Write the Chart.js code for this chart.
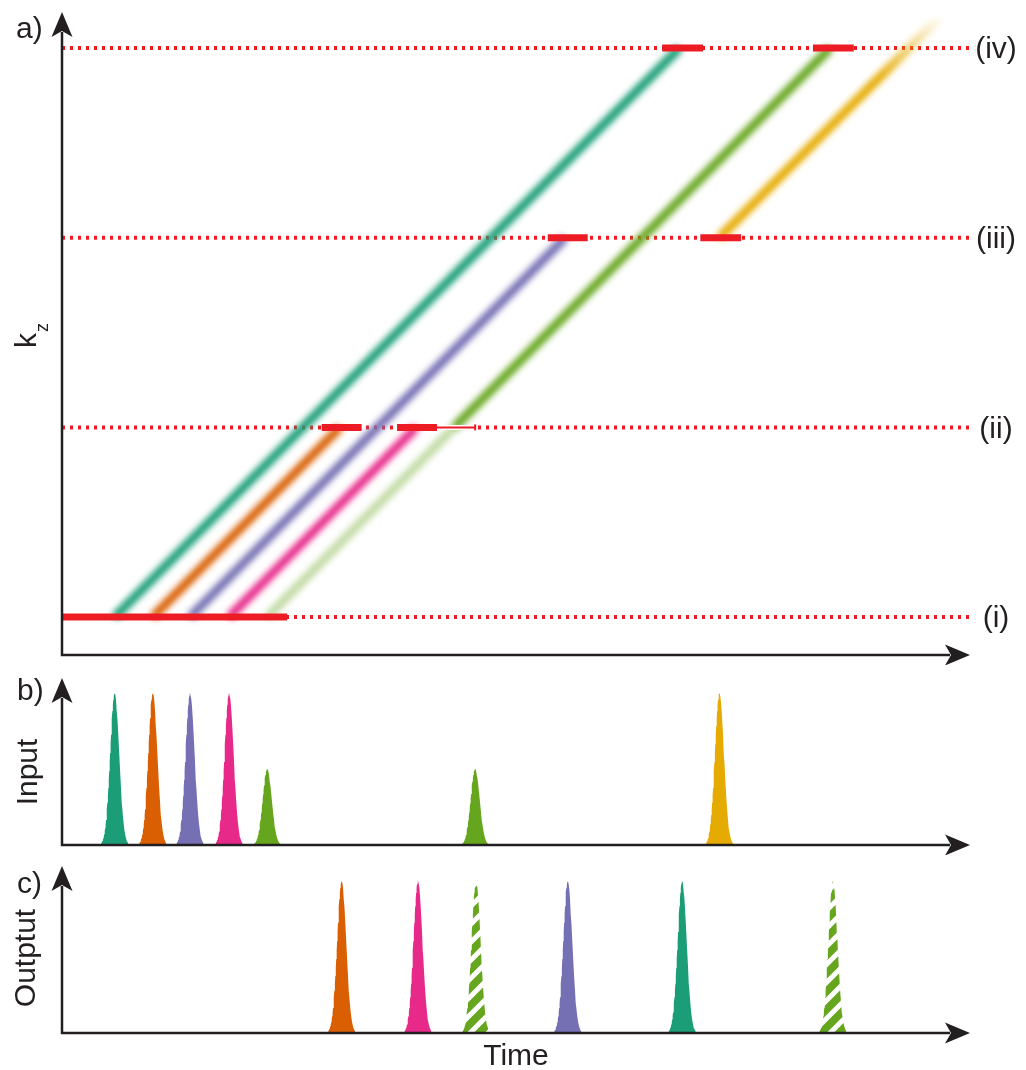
<!DOCTYPE html>
<html lang="en">
<head>
<meta charset="UTF-8">
<title>k_z versus time, input and output pulses</title>
<script src="https://cdn.jsdelivr.net/npm/chart.js"></script>
<style>
  body { margin: 0; background: #fff; }
  #wrap { position: relative; width: 1026px; height: 1070px; }
  canvas { position: absolute; left: 0; }
</style>
</head>
<body>
<div id="wrap">
  <canvas id="chartA" width="1026" height="665" style="top:0"></canvas>
  <canvas id="chartB" width="1026" height="190" style="top:665px"></canvas>
  <canvas id="chartC" width="1026" height="215" style="top:855px"></canvas>
</div>
<script>
// ColorBrewer Dark2
const TEAL = '#1b9e77', ORANGE = '#d95f02', PURPLE = '#7570b3',
      MAGENTA = '#e7298a', GREEN = '#66a61e', GOLD = '#e6ab02';
const RED = '#ed1c24', INK = '#231f20';
const FONT = '"Liberation Sans", Arial, sans-serif';

// ---- panel a : k_z levels ----
const levels = [1, 2, 3, 4];
const levelLabels = ['(i)', '(ii)', '(iii)', '(iv)'];

// diagonal bands, start (time, level) -> end (time, level)
const bandT0 = [5.8, 10.0, 14.1, 18.4, 22.6, 43.2, 72.4];
const bandK0 = [1, 1, 1, 1, 1, 2, 3];
const bandT1 = [68.0, 30.6, 55.4, 39.0, 43.2, 84.6, 96.8];
const bandK1 = [4, 2, 3, 2, 2, 4, 4.17];
const bandColors = [TEAL, ORANGE, PURPLE, MAGENTA, 'rgba(102,166,30,0.4)', GREEN, GOLD];

// thick red windows
const winStart = [0, 28.6, 36.9, 53.5, 70.3, 66.1, 82.7];
const winEnd   = [24.8, 33.0, 41.3, 57.9, 74.8, 70.6, 87.2];
const winLevel = [1, 2, 2, 3, 3, 4, 4];
// thin red tail on (ii)
const tailStart = 41.3, tailEnd = 45.5, tailLevel = 2;

// ---- panel b : input pulses ----
const inTimes   = [5.8, 10.0, 14.1, 18.4, 22.6, 45.5, 72.4];
const inHeights = [1, 1, 1, 1, 0.5, 0.5, 1];
const inColors  = [TEAL, ORANGE, PURPLE, MAGENTA, GREEN, GREEN, GOLD];

// ---- panel c : output pulses ----
const outTimes   = [30.8, 39.2, 45.6, 55.7, 68.3, 84.9];
const outHeights = [1, 1, 1, 1, 1, 1];
const outColors  = [ORANGE, MAGENTA, GREEN, PURPLE, TEAL, GREEN];
const outHatched = [false, false, true, false, false, true];

const PULSE_SIGMA = 0.5;
function pulse(t0, h) {
  const pts = [];
  for (let i = -30; i <= 30; i++) {
    const x = t0 + i * PULSE_SIGMA / 10;
    pts.push({x: x, y: h * Math.exp(-0.5 * Math.pow((x - t0) / PULSE_SIGMA, 2))});
  }
  return pts;
}

function hatch(color) {
  const s = 18, c = document.createElement('canvas');
  c.width = c.height = s;
  const x = c.getContext('2d');
  x.fillStyle = color; x.fillRect(0, 0, s, s);
  x.strokeStyle = '#fff'; x.lineWidth = 5;
  x.beginPath();
  x.moveTo(-3, 3); x.lineTo(3, -3);
  x.moveTo(0, s); x.lineTo(s, 0);
  x.moveTo(s - 3, s + 3); x.lineTo(s + 3, s - 3);
  x.stroke();
  return x.createPattern(c, 'repeat');
}

function arrowHead(ctx, x, y, dir) {
  const L = 25, W = 10.5, N = 6;
  ctx.beginPath();
  if (dir === 'up') {
    ctx.moveTo(x, y); ctx.lineTo(x + W, y + L); ctx.lineTo(x, y + L - N); ctx.lineTo(x - W, y + L);
  } else {
    ctx.moveTo(x, y); ctx.lineTo(x - L, y - W); ctx.lineTo(x - L + N, y); ctx.lineTo(x - L, y + W);
  }
  ctx.closePath();
  ctx.fill();
}

// blur filter for the diagonal bands
const blurPlugin = {
  id: 'blur',
  beforeDatasetDraw(chart, args) {
    const ds = chart.data.datasets[args.index];
    if (ds.blur) { chart.ctx.save(); chart.ctx.filter = 'blur(' + ds.blur + 'px)'; }
  },
  afterDatasetDraw(chart, args) {
    if (chart.data.datasets[args.index].blur) chart.ctx.restore();
  }
};

// axes with arrow heads + panel texts
const axesPlugin = {
  id: 'axes',
  afterDraw(chart, args, o) {
    const ctx = chart.ctx, a = chart.chartArea;
    ctx.save();
    ctx.strokeStyle = INK; ctx.fillStyle = INK; ctx.lineWidth = 2.5;
    ctx.beginPath();
    ctx.moveTo(a.left, a.top + 20);
    ctx.lineTo(a.left, a.bottom);
    ctx.lineTo(a.right - 20, a.bottom);
    ctx.stroke();
    arrowHead(ctx, a.left, a.top, 'up');
    arrowHead(ctx, a.right, a.bottom, 'right');

    ctx.font = '30px ' + FONT;
    ctx.textBaseline = 'alphabetic';
    ctx.textAlign = 'left';
    ctx.fillText(o.tag, o.tagX, o.tagY);

    if (o.title) {
      ctx.save();
      ctx.translate(o.titleX, o.titleY);
      ctx.rotate(-Math.PI / 2);
      ctx.textAlign = 'center';
      ctx.fillText(o.title, 0, 0);
      ctx.restore();
    }
    if (o.kz) {
      ctx.save();
      ctx.translate(36, 348);
      ctx.rotate(-Math.PI / 2);
      ctx.fillText('k', 0, 0);
      ctx.font = '18px ' + FONT;
      ctx.fillText('z', 16, 12);
      ctx.restore();
    }
    if (o.levelTags) {
      const ys = chart.scales.y;
      ctx.textAlign = 'center';
      ctx.textBaseline = 'middle';
      levels.forEach((k, i) => ctx.fillText(levelLabels[i], a.right + 26, ys.getPixelForValue(k) + 2));
    }
    if (o.xTitle) {
      ctx.textAlign = 'center';
      ctx.fillText(o.xTitle, (a.left + a.right) / 2, a.bottom + 32);
    }
    ctx.restore();
  }
};

function baseOptions(ymin, ymax, padding, axesOpts) {
  return {
    responsive: false,
    animation: false,
    events: [],
    layout: {padding: padding},
    elements: {point: {radius: 0}, line: {tension: 0}},
    plugins: {legend: {display: false}, tooltip: {enabled: false}, axes: axesOpts},
    scales: {
      x: {type: 'linear', display: false, min: 0, max: 100},
      y: {type: 'linear', display: false, min: ymin, max: ymax}
    }
  };
}

// ---------- chart a ----------
const dsA = [];
levels.forEach(k => dsA.push({
  data: [{x: 0, y: k}, {x: 100, y: k}],
  borderColor: RED, borderWidth: 4, borderDash: [3, 5], order: 4
}));
bandT0.forEach((t0, i) => {
  const isGold = bandColors[i] === GOLD;
  dsA.push({
    data: [{x: t0, y: bandK0[i]}, {x: bandT1[i], y: bandK1[i]}],
    borderColor: isGold ? function (c) {
      const ch = c.chart;
      if (!ch.chartArea) return GOLD;
      const ys = ch.scales.y;
      const g = ch.ctx.createLinearGradient(0, ys.getPixelForValue(3.85), 0, ys.getPixelForValue(4.17));
      g.addColorStop(0, GOLD);
      g.addColorStop(1, 'rgba(230,171,2,0)');
      return g;
    } : bandColors[i],
    borderWidth: 9, borderCapStyle: 'butt', blur: 3, order: 3
  });
});
// white backing so the dots do not show under the thin tail
dsA.push({
  data: [{x: tailStart, y: tailLevel}, {x: tailEnd, y: tailLevel}],
  borderColor: '#fff', borderWidth: 5, borderCapStyle: 'butt', order: 2
});
winStart.forEach((s, i) => dsA.push({
  data: [{x: s, y: winLevel[i]}, {x: winEnd[i], y: winLevel[i]}],
  borderColor: RED, borderWidth: 7, borderCapStyle: 'butt', order: 1
}));
dsA.push({
  data: [{x: tailStart, y: tailLevel}, {x: tailEnd, y: tailLevel}],
  borderColor: RED, borderWidth: 2, order: 1,
  pointRadius: [0, 3], pointStyle: 'line', rotation: 90, pointBorderColor: RED, pointBorderWidth: 2
});

new Chart(document.getElementById('chartA'), {
  type: 'line',
  data: {datasets: dsA},
  options: baseOptions(0.8, 4.19, {left: 62, right: 56, top: 12, bottom: 10},
    {tag: 'a)', tagX: 16, tagY: 38, kz: true, levelTags: true}),
  plugins: [blurPlugin, axesPlugin]
});

// ---------- chart b ----------
new Chart(document.getElementById('chartB'), {
  type: 'line',
  data: {datasets: inTimes.map((t, i) => ({
    data: pulse(t, inHeights[i]),
    borderWidth: 0, borderColor: 'rgba(0,0,0,0)',
    backgroundColor: inColors[i], fill: 'origin'
  }))},
  options: baseOptions(0, 1.1, {left: 62, right: 56, top: 13, bottom: 10},
    {tag: 'b)', tagX: 17, tagY: 35, title: 'Input', titleX: 37, titleY: 107}),
  plugins: [axesPlugin]
});

// ---------- chart c ----------
new Chart(document.getElementById('chartC'), {
  type: 'line',
  data: {datasets: outTimes.map((t, i) => ({
    data: pulse(t, outHeights[i]),
    borderWidth: 0, borderColor: 'rgba(0,0,0,0)',
    backgroundColor: outHatched[i] ? hatch(outColors[i]) : outColors[i], fill: 'origin'
  }))},
  options: baseOptions(0, 1.1, {left: 62, right: 56, top: 11, bottom: 37},
    {tag: 'c)', tagX: 17, tagY: 38, title: 'Outptut', titleX: 35, titleY: 103, xTitle: 'Time'}),
  plugins: [axesPlugin]
});
</script>
</body>
</html>
